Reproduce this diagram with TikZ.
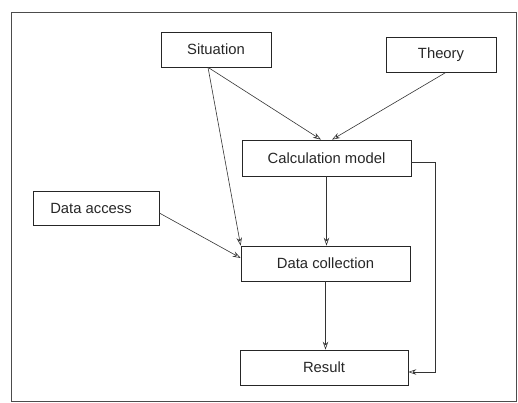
\documentclass[tikz,border=0pt]{standalone}
\usepackage{fontspec}
\setmainfont{Liberation Sans}
\usetikzlibrary{arrows.meta,calc}
\begin{document}
\begin{tikzpicture}[x=1pt,y=-1pt,
  box/.style={draw=black!85,line width=0.7pt,rectangle,inner sep=0pt,
    font=\fontsize{14.8}{17}\selectfont,text=black!85},
  link/.style={draw=black!80,line width=0.6pt,
    -{Stealth[open,length=8pt,width=5.5pt]}}]
  \useasboundingbox (0,0) rectangle (518,403);
  % outer frame
  \draw[black!70,line width=0.8pt] (11,12) rectangle (516,401);
  % boxes
  \node[box,minimum width=110pt,minimum height=35pt] (sit) at (216,49.5) {Situation};
  \node[box,minimum width=110pt,minimum height=35pt] (th) at (441,54.5) {Theory};
  \node[box,minimum width=169pt,minimum height=36pt] (calc) at (326.5,158) {Calculation model};
  \node[box,minimum width=126pt,minimum height=34pt] (da) at (96,208) {Data access\hspace*{10pt}};
  \node[box,minimum width=169pt,minimum height=35pt] (dc) at (325.5,263.5) {Data collection};
  \node[box,minimum width=168pt,minimum height=35pt] (res) at (324,367.5) {Result};
  % connectors
  \draw[link] ([xshift=-8pt]sit.south) -- ([xshift=-5.5pt]calc.north);
  \draw[link] ([xshift=5pt]th.south) -- ([xshift=5.5pt]calc.north);
  \draw[link] ([xshift=-8pt]sit.south) -- (dc.north west);
  \draw[link] ([yshift=-5pt]da.east) -- ([yshift=5.5pt]dc.west);
  \draw[link] (calc.south) -- (calc.south |- dc.north);
  \draw[link] (dc.south) -- (dc.south |- res.north);
  \draw[link] ([yshift=-4pt]calc.east) -- ++(24,0) |- ([yshift=-4.5pt]res.east);
\end{tikzpicture}
\end{document}
